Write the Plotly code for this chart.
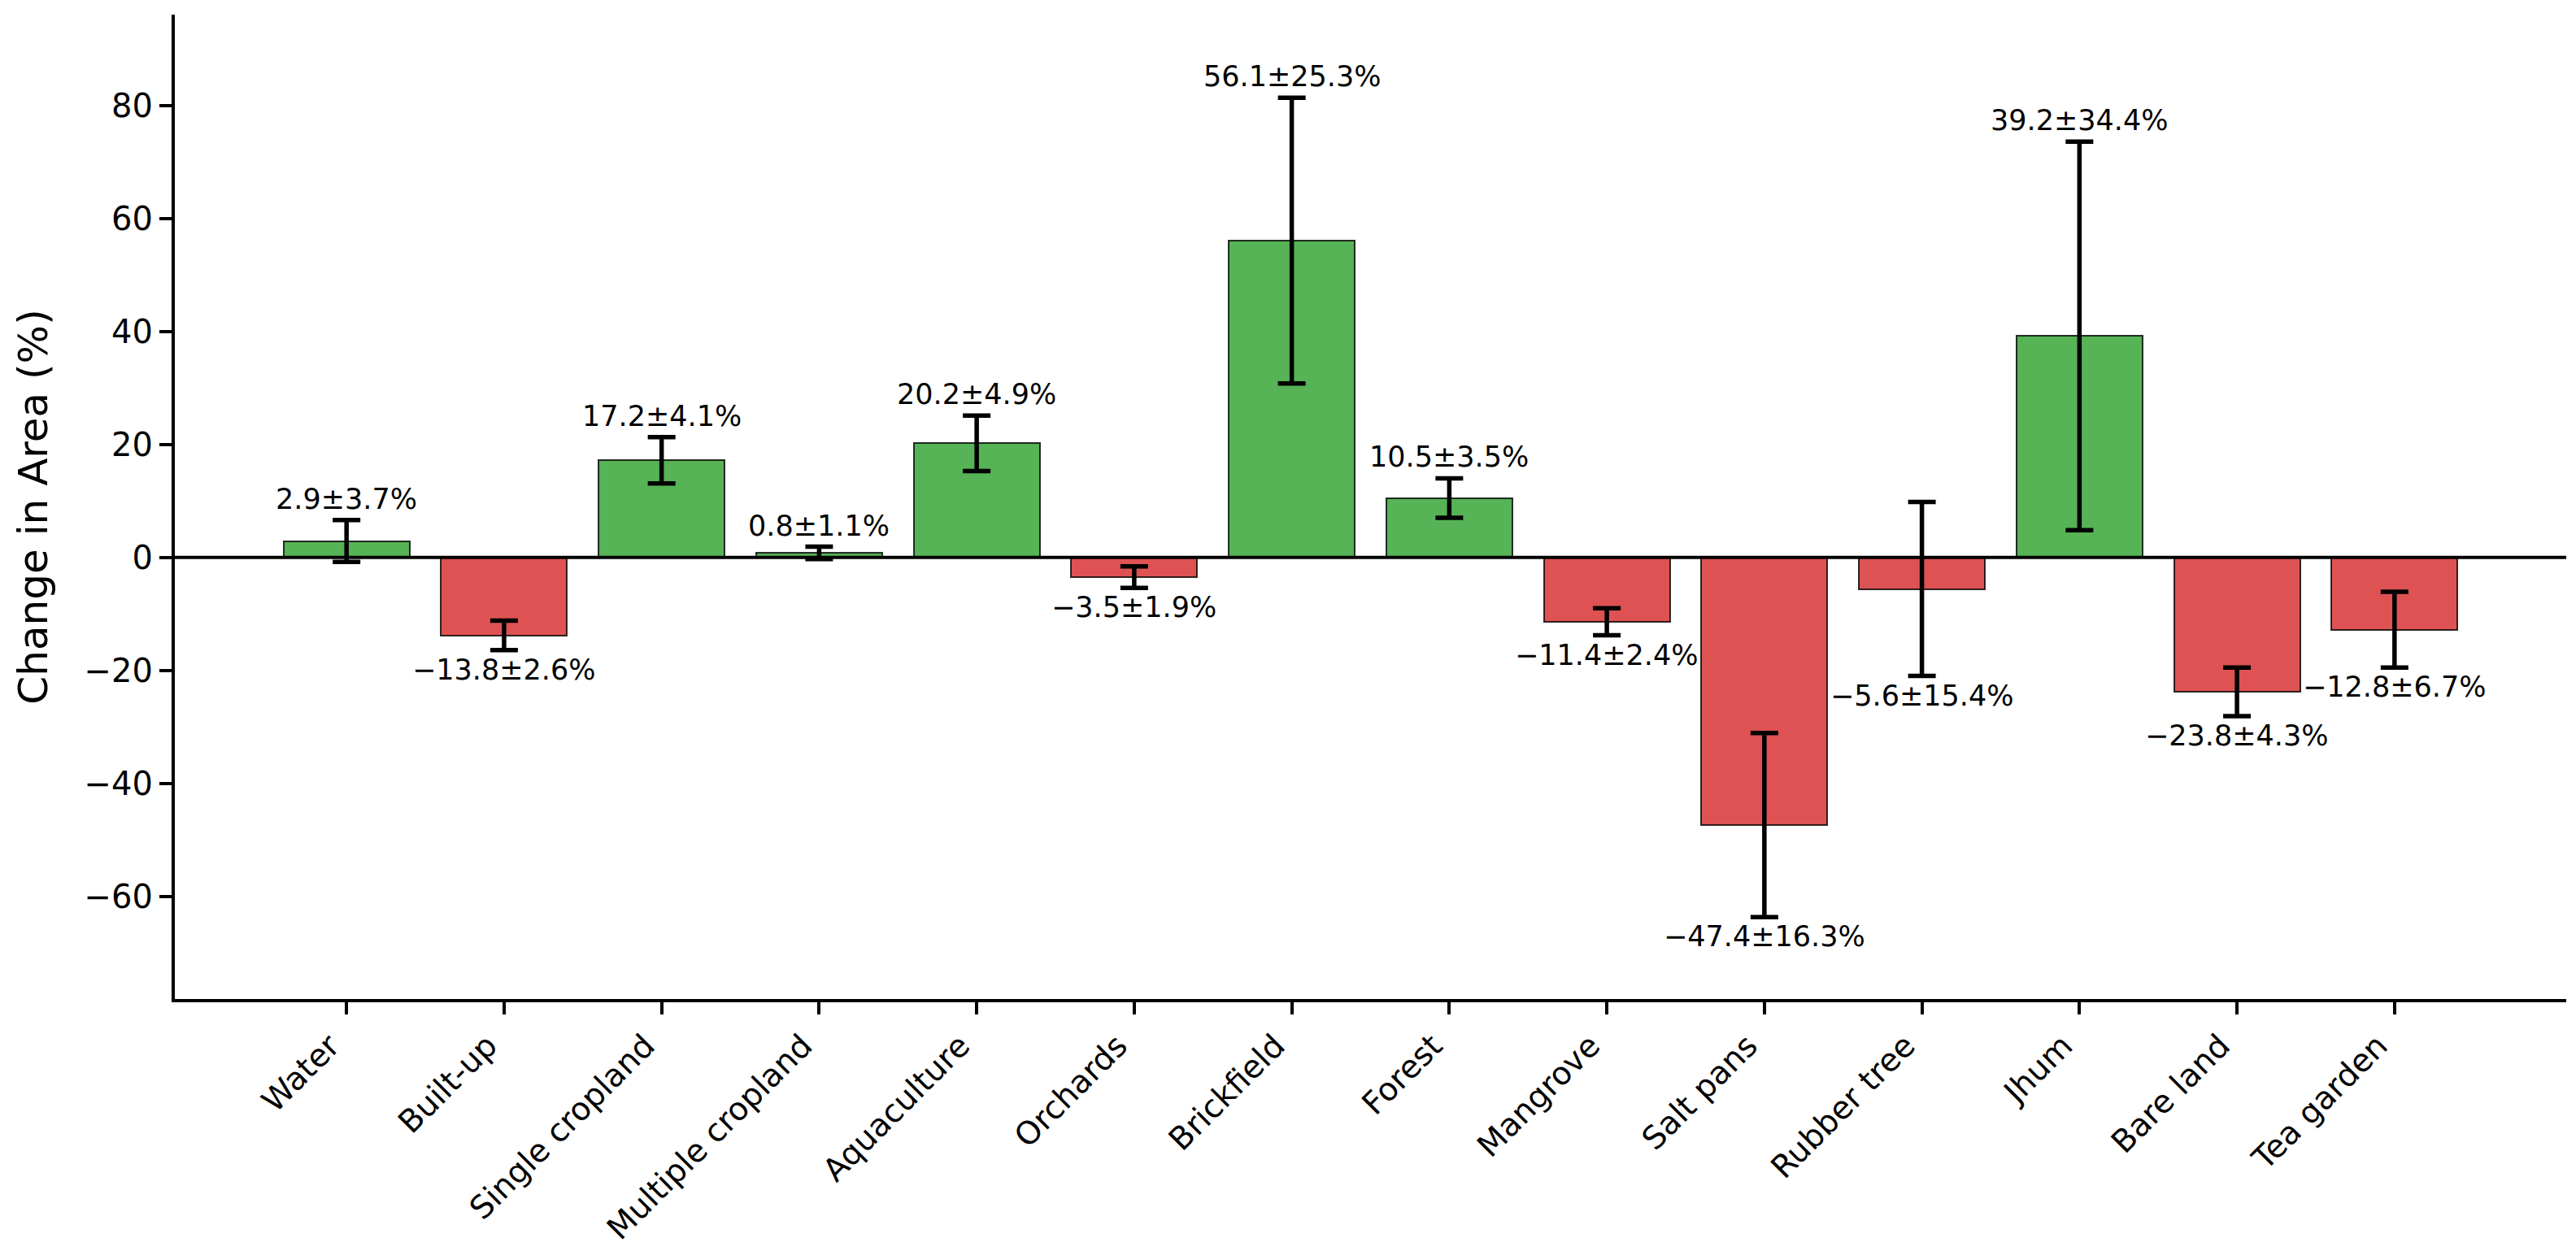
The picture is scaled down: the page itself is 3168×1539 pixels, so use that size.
import plotly.graph_objects as go

categories = ["Water", "Built-up", "Single cropland", "Multiple cropland", "Aquaculture",
              "Orchards", "Brickfield", "Forest", "Mangrove", "Salt pans",
              "Rubber tree", "Jhum", "Bare land", "Tea garden"]
change = [2.9, -13.8, 17.2, 0.8, 20.2, -3.5, 56.1, 10.5, -11.4, -47.4, -5.6, 39.2, -23.8, -12.8]
error = [3.7, 2.6, 4.1, 1.1, 4.9, 1.9, 25.3, 3.5, 2.4, 16.3, 15.4, 34.4, 4.3, 6.7]
y_ticks = [-60, -40, -20, 0, 20, 40, 60, 80]

GREEN = "rgba(44,160,44,0.8)"
RED = "rgba(214,39,40,0.8)"
FONT = "DejaVu Sans"

colors = [GREEN if v >= 0 else RED for v in change]

fig = go.Figure()
fig.add_trace(go.Bar(
    x=list(range(len(categories))), y=change, width=0.8,
    marker=dict(color=colors, line=dict(color="rgba(0,0,0,0.8)", width=2)),
    error_y=dict(type="data", array=error, visible=True, color="black", thickness=5.5, width=17),
    showlegend=False,
))


def fmt(v):
    s = f"{v:.1f}"
    return s.replace("-", "\u2212")


annotations = []
for i, (v, e) in enumerate(zip(change, error)):
    label = f"{fmt(v)}\u00b1{e:.1f}%"
    if v >= 0:
        annotations.append(dict(x=i, y=v + e + 1, text=label, showarrow=False,
                                xanchor="center", yanchor="bottom", yshift=-3,
                                font=dict(family=FONT, size=35, color="black")))
    else:
        annotations.append(dict(x=i, y=v - e - 1, text=label, showarrow=False,
                                xanchor="center", yanchor="top", yshift=5,
                                font=dict(family=FONT, size=35, color="black")))

fig.update_layout(
    width=3168, height=1539,
    margin=dict(l=207, r=20, t=10, b=318),
    plot_bgcolor="white", paper_bgcolor="white",
    font=dict(family=FONT, size=40, color="black"),
    annotations=annotations,
    shapes=[dict(type="line", xref="paper", x0=0, x1=1, yref="y", y0=0, y1=0,
                 line=dict(color="black", width=4), layer="above")],
    bargap=0,
)
fig.update_xaxes(
    range=[-1.09, 14.09], tickmode="array", tickvals=list(range(len(categories))),
    ticktext=categories, tickangle=-45, showgrid=False, zeroline=False,
    showline=True, linecolor="black", linewidth=4, ticks="outside", ticklen=15,
    tickwidth=4, tickcolor="black", tickfont=dict(family=FONT, size=39, color="black"),
    ticklabelshift=-20, ticklabelstandoff=0, automargin=False,
)
fig.update_yaxes(
    range=[-78.2, 96.1], tickmode="array", tickvals=y_ticks, showgrid=False,
    zeroline=False, showline=True, linecolor="black", linewidth=4, ticks="outside",
    ticklen=15, tickwidth=4, tickcolor="black",
    tickfont=dict(family=FONT, size=40, color="black"), automargin=False,
    title=dict(text="Change in Area (%)", font=dict(family=FONT, size=50, color="black"), standoff=30),
)

fig.write_html("out.html")
